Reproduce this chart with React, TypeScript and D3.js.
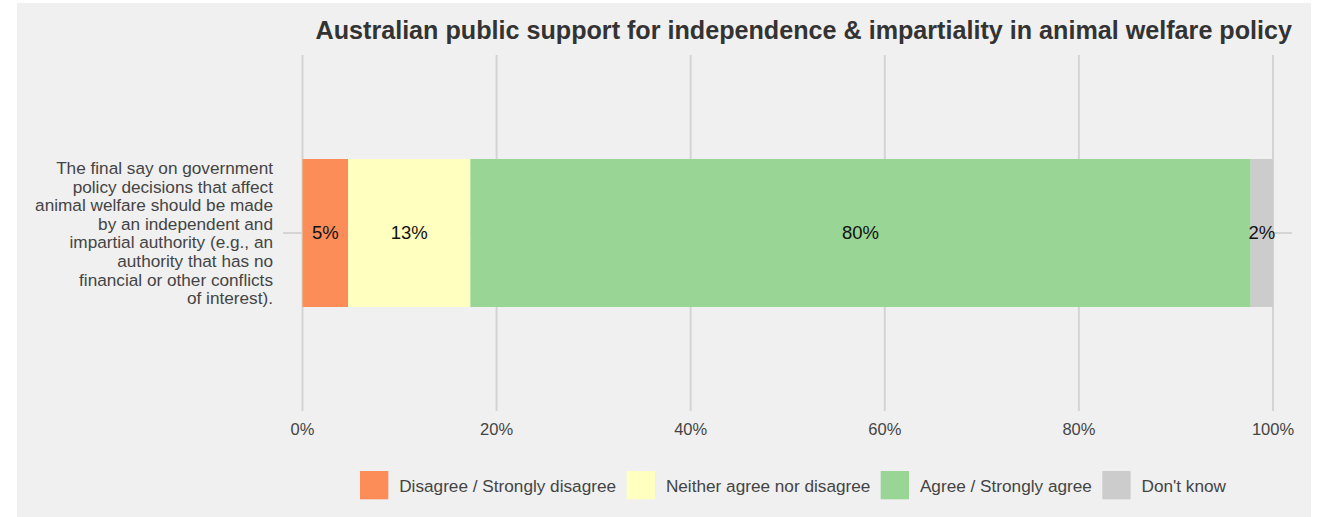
import React from "react";
import * as d3 from "d3";

const TITLE = "Australian public support for independence & impartiality in animal welfare policy";
const questionLines = [
  "The final say on government",
  "policy decisions that affect",
  "animal welfare should be made",
  "by an independent and",
  "impartial authority (e.g., an",
  "authority that has no",
  "financial or other conflicts",
  "of interest).",
];
const categories = [
  "Disagree / Strongly disagree",
  "Neither agree nor disagree",
  "Agree / Strongly agree",
  "Don't know",
];
const values = [4.7, 12.6, 80.4, 2.3];
const labels = ["5%", "13%", "80%", "2%"];
const colors = ["#FC8D59", "#FFFFBF", "#99D594", "#CCCCCC"];
const ticks = [0, 20, 40, 60, 80, 100];

const W = 1319;
const H = 517;
const FONT = "'Liberation Sans', Arial, Helvetica, sans-serif";

export default function App() {
  const x = d3.scaleLinear().domain([0, 100]).range([302.5, 1273]);
  const plotLeft = 283;
  const plotRight = 1292;
  const plotTop = 55;
  const plotBottom = 411;
  const y = d3.scaleBand().domain(["q"]).range([plotTop, plotBottom]).paddingInner(0).paddingOuter(0.7027);
  const yc = (y("q") as number) + y.bandwidth() / 2;

  const stacked: { start: number; end: number; i: number }[] = [];
  let acc = 0;
  values.forEach((v, i) => {
    stacked.push({ start: acc, end: acc + v, i });
    acc += v;
  });

  const legendSquares = [360, 626.7, 880.7, 1102.3];

  return (
    <svg
      width={W}
      height={H}
      style={{ position: "absolute", left: 0, top: 0, fontFamily: FONT }}
    >
      <rect x={0} y={0} width={W} height={H} fill="#ffffff" />
      <rect x={17} y={3} width={1294} height={H - 3} fill="#F0F0F0" />

      {/* vertical gridlines */}
      {ticks.map((t) => (
        <line
          key={t}
          x1={x(t)}
          x2={x(t)}
          y1={plotTop}
          y2={plotBottom}
          stroke="#D4D4D4"
          strokeWidth={2}
        />
      ))}
      {/* horizontal gridline */}
      <line x1={plotLeft} x2={plotRight} y1={yc} y2={yc} stroke="#D4D4D4" strokeWidth={2} />

      {/* bars */}
      {stacked.map((s) => (
        <rect
          key={s.i}
          x={x(s.start)}
          y={y("q")}
          width={x(s.end) - x(s.start)}
          height={y.bandwidth()}
          fill={colors[s.i]}
        />
      ))}
      {stacked.map((s) => (
        <text
          key={"l" + s.i}
          x={(x(s.start) + x(s.end)) / 2}
          y={yc}
          dy="0.35em"
          textAnchor="middle"
          fontSize={18.5}
          fill="#111"
        >
          {labels[s.i]}
        </text>
      ))}

      {/* y label */}
      <text fontSize={17.2} fill="#444" textAnchor="end">
        {questionLines.map((l, i) => (
          <tspan key={i} x={273} y={yc + (i - (questionLines.length - 1) / 2) * 18.6 + 6}>
            {l}
          </tspan>
        ))}
      </text>

      {/* x tick labels */}
      {ticks.map((t) => (
        <text
          key={"t" + t}
          x={x(t)}
          y={435}
          textAnchor="middle"
          fontSize={16.5}
          fill="#444"
        >
          {t + "%"}
        </text>
      ))}

      {/* title */}
      <text x={1292} y={39} textAnchor="end" fontSize={25.15} fontWeight="bold" fill="#333">
        {TITLE}
      </text>

      {/* legend */}
      {categories.map((c, i) => (
        <g key={c}>
          <rect x={legendSquares[i]} y={471} width={28.3} height={28.3} fill={colors[i]} />
          <text x={legendSquares[i] + 39.2} y={486} dy="0.35em" fontSize={17.2} fill="#444">
            {c}
          </text>
        </g>
      ))}
    </svg>
  );
}
